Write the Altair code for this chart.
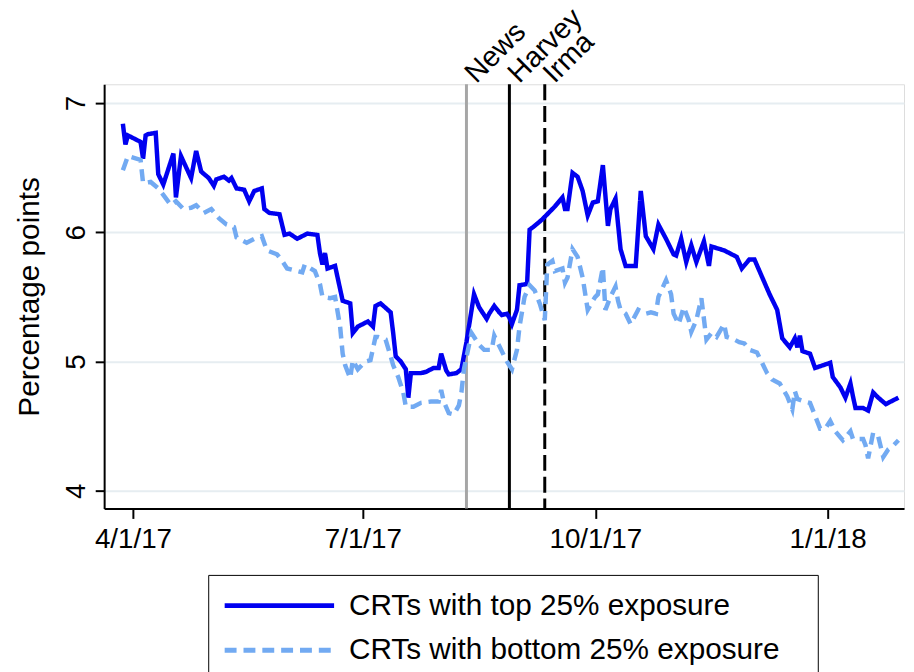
import altair as alt
import pandas as pd

series_names = ["CRTs with top 25% exposure", "CRTs with bottom 25% exposure"]

top_dates = [
    "2017-03-28", "2017-03-29", "2017-03-30", "2017-04-01", "2017-04-04", "2017-04-05", "2017-04-06",
    "2017-04-07", "2017-04-10", "2017-04-11", "2017-04-13", "2017-04-17", "2017-04-18", "2017-04-20",
    "2017-04-24", "2017-04-26", "2017-04-28", "2017-05-01", "2017-05-03", "2017-05-04", "2017-05-07",
    "2017-05-09", "2017-05-10", "2017-05-12", "2017-05-15", "2017-05-17", "2017-05-19", "2017-05-22",
    "2017-05-23", "2017-05-25", "2017-05-29", "2017-05-31", "2017-06-02", "2017-06-05", "2017-06-09",
    "2017-06-13", "2017-06-14", "2017-06-15", "2017-06-16", "2017-06-17", "2017-06-20", "2017-06-21",
    "2017-06-23", "2017-06-26", "2017-06-27", "2017-06-29", "2017-07-03", "2017-07-05", "2017-07-06",
    "2017-07-08", "2017-07-12", "2017-07-13", "2017-07-14", "2017-07-16", "2017-07-18", "2017-07-19",
    "2017-07-20", "2017-07-24", "2017-07-26", "2017-07-29", "2017-07-31", "2017-08-01", "2017-08-03",
    "2017-08-04", "2017-08-07", "2017-08-09", "2017-08-11", "2017-08-14", "2017-08-16", "2017-08-19",
    "2017-08-20", "2017-08-22", "2017-08-24", "2017-08-25", "2017-08-27", "2017-08-28", "2017-08-29",
    "2017-08-31", "2017-09-01", "2017-09-04", "2017-09-05", "2017-09-07", "2017-09-10", "2017-09-13",
    "2017-09-15", "2017-09-18", "2017-09-19", "2017-09-20", "2017-09-22", "2017-09-24", "2017-09-26",
    "2017-09-28", "2017-09-30", "2017-10-02", "2017-10-04", "2017-10-06", "2017-10-07", "2017-10-09",
    "2017-10-11", "2017-10-13", "2017-10-17", "2017-10-19", "2017-10-21", "2017-10-24", "2017-10-26",
    "2017-10-29", "2017-11-01", "2017-11-02", "2017-11-04", "2017-11-06", "2017-11-08", "2017-11-10",
    "2017-11-13", "2017-11-15", "2017-11-16", "2017-11-21", "2017-11-26", "2017-11-28", "2017-12-01",
    "2017-12-03", "2017-12-05", "2017-12-07", "2017-12-09", "2017-12-12", "2017-12-14", "2017-12-17",
    "2017-12-19", "2017-12-20", "2017-12-21", "2017-12-22", "2017-12-25", "2017-12-27", "2017-12-30",
    "2018-01-02", "2018-01-03", "2018-01-06", "2018-01-08", "2018-01-10", "2018-01-11", "2018-01-12",
    "2018-01-15", "2018-01-17", "2018-01-19", "2018-01-21", "2018-01-24", "2018-01-26", "2018-01-29",
]
top_values = [
    6.84, 6.68, 6.75, 6.73, 6.70, 6.57, 6.75,
    6.76, 6.77, 6.45, 6.37, 6.61, 6.27, 6.59,
    6.42, 6.63, 6.47, 6.42, 6.36, 6.41, 6.43,
    6.40, 6.42, 6.34, 6.33, 6.24, 6.32, 6.34,
    6.18, 6.15, 6.14, 5.98, 5.99, 5.95, 5.99,
    5.98, 5.84, 5.75, 5.84, 5.72, 5.74, 5.65,
    5.47, 5.45, 5.22, 5.27, 5.31, 5.27, 5.43,
    5.45, 5.38, 5.22, 5.04, 5.00, 4.94, 4.72,
    4.91, 4.91, 4.92, 4.95, 4.95, 5.06, 4.93,
    4.90, 4.91, 4.94, 5.15, 5.52, 5.42, 5.33,
    5.37, 5.43, 5.38, 5.36, 5.37, 5.34, 5.29,
    5.40, 5.59, 5.60, 6.02, 6.05, 6.10, 6.16,
    6.20, 6.27, 6.18, 6.18, 6.46, 6.43, 6.32,
    6.13, 6.23, 6.24, 6.52, 6.05, 6.18, 6.26,
    5.87, 5.74, 5.74, 6.32, 5.97, 5.87, 6.06,
    5.95, 5.83, 5.82, 5.95, 5.77, 5.90, 5.77,
    5.93, 5.74, 5.89, 5.86, 5.81, 5.72, 5.79,
    5.79, 5.70, 5.61, 5.52, 5.40, 5.18, 5.11,
    5.18, 5.11, 5.20, 5.08, 5.06, 4.95, 4.97,
    4.99, 4.88, 4.80, 4.72, 4.83, 4.73, 4.64,
    4.64, 4.62, 4.76, 4.72, 4.67, 4.69, 4.72,
]

bottom_dates = [
    "2017-03-28", "2017-03-30", "2017-04-04", "2017-04-05", "2017-04-08", "2017-04-11", "2017-04-13",
    "2017-04-16", "2017-04-18", "2017-04-21", "2017-04-24", "2017-04-26", "2017-04-29", "2017-05-02",
    "2017-05-05", "2017-05-08", "2017-05-11", "2017-05-12", "2017-05-16", "2017-05-19", "2017-05-22",
    "2017-05-24", "2017-05-28", "2017-05-30", "2017-06-01", "2017-06-05", "2017-06-07", "2017-06-08",
    "2017-06-12", "2017-06-14", "2017-06-15", "2017-06-18", "2017-06-20", "2017-06-22", "2017-06-23",
    "2017-06-24", "2017-06-26", "2017-06-27", "2017-06-29", "2017-07-02", "2017-07-04", "2017-07-06",
    "2017-07-07", "2017-07-10", "2017-07-12", "2017-07-13", "2017-07-15", "2017-07-17", "2017-07-18",
    "2017-07-21", "2017-07-24", "2017-07-28", "2017-07-31", "2017-08-01", "2017-08-02", "2017-08-04",
    "2017-08-06", "2017-08-08", "2017-08-09", "2017-08-10", "2017-08-13", "2017-08-16", "2017-08-18",
    "2017-08-21", "2017-08-22", "2017-08-24", "2017-08-27", "2017-08-29", "2017-08-31", "2017-09-01",
    "2017-09-03", "2017-09-05", "2017-09-07", "2017-09-09", "2017-09-11", "2017-09-12", "2017-09-14",
    "2017-09-15", "2017-09-18", "2017-09-19", "2017-09-20", "2017-09-22", "2017-09-24", "2017-09-26",
    "2017-09-28", "2017-09-30", "2017-10-01", "2017-10-02", "2017-10-04", "2017-10-05", "2017-10-07",
    "2017-10-09", "2017-10-10", "2017-10-11", "2017-10-13", "2017-10-15", "2017-10-18", "2017-10-21",
    "2017-10-23", "2017-10-25", "2017-10-26", "2017-10-29", "2017-10-31", "2017-11-01", "2017-11-03",
    "2017-11-05", "2017-11-07", "2017-11-08", "2017-11-10", "2017-11-12", "2017-11-14", "2017-11-16",
    "2017-11-18", "2017-11-21", "2017-11-22", "2017-11-25", "2017-11-27", "2017-11-29", "2017-12-01",
    "2017-12-04", "2017-12-06", "2017-12-08", "2017-12-10", "2017-12-13", "2017-12-16", "2017-12-18",
    "2017-12-19", "2017-12-20", "2017-12-23", "2017-12-25", "2017-12-27", "2017-12-29", "2017-12-31",
    "2018-01-02", "2018-01-04", "2018-01-07", "2018-01-10", "2018-01-11", "2018-01-15", "2018-01-16",
    "2018-01-17", "2018-01-19", "2018-01-21", "2018-01-23", "2018-01-25", "2018-01-27", "2018-01-29",
]
bottom_values = [
    6.48, 6.59, 6.56, 6.38, 6.39, 6.34, 6.29,
    6.21, 6.24, 6.18, 6.19, 6.21, 6.15, 6.18,
    6.11, 6.06, 6.04, 5.96, 5.92, 5.95, 5.97,
    5.86, 5.83, 5.78, 5.72, 5.70, 5.69, 5.75,
    5.70, 5.60, 5.50, 5.49, 5.50, 5.27, 5.06,
    4.97, 4.87, 5.01, 4.94, 5.00, 5.01, 5.19,
    5.19, 5.17, 5.04, 4.97, 4.88, 4.76, 4.65,
    4.65, 4.68, 4.69, 4.69, 4.78, 4.69, 4.60,
    4.59, 4.66, 4.76, 4.94, 5.22, 5.13, 5.09,
    5.09, 5.20, 5.12, 5.00, 4.94, 5.09, 5.27,
    5.50, 5.59, 5.55, 5.45, 5.32, 5.75, 5.78,
    5.70, 5.72, 5.61, 5.65, 5.87, 5.81, 5.65,
    5.40, 5.47, 5.50, 5.52, 5.73, 5.40, 5.50,
    5.58, 5.47, 5.40, 5.37, 5.29, 5.40, 5.37,
    5.38, 5.37, 5.50, 5.63, 5.52, 5.37, 5.29,
    5.42, 5.32, 5.23, 5.32, 5.49, 5.17, 5.22,
    5.19, 5.29, 5.19, 5.17, 5.15, 5.14, 5.09,
    5.07, 4.99, 4.91, 4.86, 4.83, 4.73, 4.63,
    4.77, 4.71, 4.69, 4.68, 4.58, 4.48, 4.48,
    4.54, 4.46, 4.39, 4.46, 4.40, 4.40, 4.35,
    4.25, 4.45, 4.42, 4.26, 4.32, 4.35, 4.39,
]

event_names = ["News", "Harvey", "Irma"]
event_dates = ["2017-08-11", "2017-08-28", "2017-09-11"]

x_tick_dates = ["2017-04-01", "2017-07-01", "2017-10-01", "2018-01-01"]
y_ticks = [4, 5, 6, 7]

FONT = "Liberation Sans"


def dt(s, hours=0):
    y, m, d = (int(p) for p in s.split("-"))
    return alt.DateTime(year=y, month=m, date=d, hours=hours, utc=True)


df = pd.DataFrame({
    "date": top_dates + bottom_dates,
    "value": top_values + bottom_values,
    "series": [series_names[0]] * len(top_dates) + [series_names[1]] * len(bottom_dates),
})
ev = pd.DataFrame({"date": event_dates, "event": event_names})

x_enc = alt.X(
    "date:T",
    scale=alt.Scale(type="utc", domain=[dt("2017-03-20", 14), dt("2018-01-31", 5)]),
    axis=alt.Axis(
        values=[dt(s) for s in x_tick_dates],
        format="%-m/%-d/%y",
        title=None,
        grid=False,
        labelFontSize=28,
        labelPadding=7,
        tickSize=10,
        tickWidth=2,
        tickColor="black",
        domainColor="black",
        domainWidth=2,
        labelFlush=False,
        labelColor="black",
    ),
)

y_enc = alt.Y(
    "value:Q",
    scale=alt.Scale(domain=[3.862, 7.146], nice=False, zero=False),
    axis=alt.Axis(
        values=y_ticks,
        title="Percentage points",
        titleFontSize=30,
        titleFontWeight="normal",
        titleColor="black",
        titlePadding=18,
        labelAngle=270,
        labelFontSize=28,
        labelPadding=5,
        labelColor="black",
        grid=True,
        gridColor="#E6EDF1",
        gridWidth=2,
        tickSize=9,
        tickWidth=2,
        tickColor="black",
        domainColor="black",
        domainWidth=2,
    ),
)

LEGEND_TITLE = "\u00a0"

legend = alt.Legend(
    orient="none",
    legendX=105,
    legendY=495,
    titleOrient="right",
    titlePadding=22,
    titleFontSize=30,
    symbolType="M-1.2,0H8",
    symbolSize=576,
    symbolStrokeWidth=5,
    labelFontSize=30,
    labelFont=FONT,
    labelColor="black",
    labelOffset=96,
    labelLimit=0,
    padding=16,
    rowPadding=15,
    strokeColor="black",
    fillColor="white",
)

lines = alt.Chart(df).mark_line(strokeWidth=4.5).encode(
    x=x_enc,
    y=y_enc,
    color=alt.Color(
        "series:N",
        title=LEGEND_TITLE,
        scale=alt.Scale(domain=series_names, range=["#0000F0", "#72AAF2"]),
        legend=legend,
    ),
    strokeDash=alt.StrokeDash(
        "series:N",
        title=LEGEND_TITLE,
        scale=alt.Scale(domain=series_names, range=[[1, 0], [12, 7]]),
        legend=legend,
    ),
    order=alt.Order("date:T"),
)

base_ev = alt.Chart(ev)
rule_news = base_ev.transform_filter(alt.datum.event == event_names[0]).mark_rule(
    color="#A6A6A6", strokeWidth=3
).encode(x=x_enc)
rule_harvey = base_ev.transform_filter(alt.datum.event == event_names[1]).mark_rule(
    color="black", strokeWidth=3
).encode(x=x_enc)
rule_irma = base_ev.transform_filter(alt.datum.event == event_names[2]).mark_rule(
    color="black", strokeWidth=3, strokeDash=[16, 6]
).encode(x=x_enc)

labels = base_ev.mark_text(
    angle=315, align="left", baseline="alphabetic", dx=7, dy=7,
    fontSize=29, font=FONT, color="black",
).encode(x=x_enc, y=alt.value(0), text="event:N")

chart = alt.layer(rule_news, rule_harvey, rule_irma, lines, labels).properties(
    width=807,
    height=428,
    autosize=alt.AutoSizeParams(type="none"),
    padding={"left": 97, "top": 74, "right": 2, "bottom": 162},
).configure_view(strokeWidth=0).configure(font=FONT, background="white").configure_axis(
    labelFont=FONT, titleFont=FONT
)

chart.save("out.html", embed_options={"renderer": "svg", "actions": False})
